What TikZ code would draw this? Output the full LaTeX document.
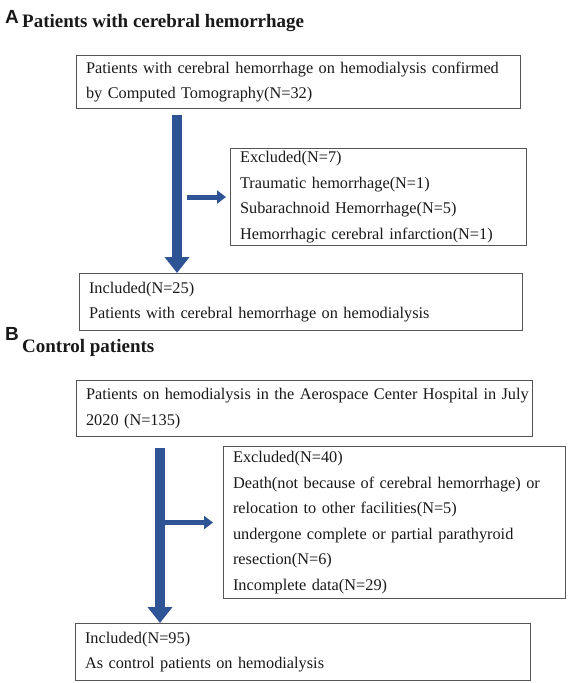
\documentclass[tikz,border=0pt]{standalone}
\usepackage{fontspec}
\setmainfont{Liberation Serif}
\newfontfamily\labfont{Liberation Sans}
\usetikzlibrary{arrows.meta}
\definecolor{arrowblue}{RGB}{47,84,150}
\definecolor{boxgray}{RGB}{85,85,85}
\definecolor{txt}{RGB}{25,25,25}
\begin{document}
\begin{tikzpicture}[x=1pt,y=-1pt,
  box/.style={draw=boxgray, line width=1.1pt, anchor=north west, inner xsep=9.5pt, inner ysep=0pt,
    align=left, font=\fontsize{16.3}{25.5}\selectfont, text=txt},
  bigarrow/.style={draw=arrowblue, line width=10pt, -{Triangle[width=24pt,length=16pt]}},
  smallarrow/.style={draw=arrowblue, line width=5pt, -{Triangle[width=13pt,length=9pt]}},
  panel/.style={anchor=base west, inner sep=0pt, font=\labfont\bfseries\fontsize{19}{19}\selectfont, text=txt},
  heading/.style={anchor=base west, inner sep=0pt, font=\bfseries\fontsize{19}{19}\selectfont, text=txt}
]
\useasboundingbox (0,0) rectangle (569,683);

% Panel A
\node[panel] (la) at (5,23) {A};
\node[heading] (ta) at (22,27) {Patients with cerebral hemorrhage};
\node[box, minimum width=444pt, minimum height=53pt, text width=425pt] (a1) at (76,55)
  {\mbox{Patients with cerebral hemorrhage on hemodialysis confirmed}\\by Computed Tomography(N=32)};
\node[box, minimum width=296pt, minimum height=97pt, text width=277pt] (exa) at (230,148)
  {Excluded(N=7)\\Traumatic hemorrhage(N=1)\\Subarachnoid Hemorrhage(N=5)\\\mbox{Hemorrhagic cerebral infarction(N=1)}};
\node[box, minimum width=443pt, minimum height=57pt, text width=424pt] (ina) at (79,273)
  {Included(N=25)\\Patients with cerebral hemorrhage on hemodialysis};
\coordinate (vaS) at ([xshift=101pt,yshift=-6pt]a1.south west);
\draw[bigarrow] (vaS) -- (vaS |- ina.north);
\draw[smallarrow] ([xshift=10pt]vaS |- exa.west) -- ([xshift=-4pt]exa.west);

% Panel B
\node[panel] (lb) at (5,340) {B};
\node[heading] (tb) at (22,352) {Control patients};
\node[box, minimum width=456pt, minimum height=56pt, text width=437pt] (b1) at (76,380)
  {\mbox{Patients on hemodialysis in the Aerospace Center Hospital in July}\\2020 (N=135)};
\node[box, minimum width=342pt, minimum height=152pt, text width=323pt] (exb) at (223,446)
  {Excluded(N=40)\\\mbox{Death(not because of cerebral hemorrhage) or}\\relocation to other facilities(N=5)\\\mbox{undergone complete or partial parathyroid}\\resection(N=6)\\Incomplete data(N=29)};
\node[box, minimum width=455pt, minimum height=57pt, text width=436pt] (inb) at (75,623)
  {Included(N=95)\\As control patients on hemodialysis};
\coordinate (vbS) at ([xshift=84pt,yshift=-11pt]b1.south west);
\draw[bigarrow] (vbS) -- (vbS |- inb.north);
\draw[smallarrow] (vbS |- exb.west) -- ([xshift=-10pt]exb.west);
\end{tikzpicture}
\end{document}
